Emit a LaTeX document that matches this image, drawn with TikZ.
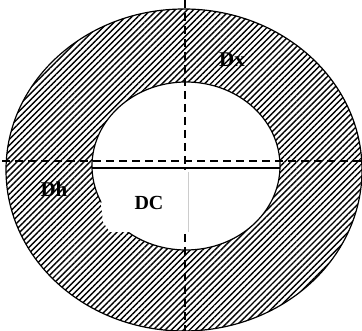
\documentclass[tikz,border=0pt]{standalone}
\usepackage{fontspec}
\setmainfont{Liberation Serif}
\usetikzlibrary{patterns.meta}
\begin{document}
\begin{tikzpicture}[x=1pt,y=-1pt,
  hatch/.style={pattern={Lines[angle=45,distance=4.3pt,line width=1.4pt]}},
  axis/.style={line width=1.6pt,dash pattern=on 8pt off 5pt},
  rim/.style={line width=1.2pt},
  lbl/.style={font=\bfseries\fontsize{21}{21}\selectfont,inner sep=0pt}]
\useasboundingbox (0,0) rectangle (362,331);
\fill[white] (0,0) rectangle (362,331);
% annulus
\fill[hatch] (184,170) ellipse [x radius=178,y radius=161];
\fill[white] (186,166) ellipse [x radius=94,y radius=84];
\draw[rim] (184,170) ellipse [x radius=178,y radius=161];
\draw[rim] (186,166) ellipse [x radius=94,y radius=84];
% axes
\coordinate (hl) at (2,161);
\coordinate (hr) at (362,161);
\coordinate (vt) at (185,0);
\coordinate (vb) at (185,331);
\coordinate (sl) at (92,168);
\coordinate (sr) at (280,168);
\draw[axis] (hl) -- (hr);
\draw[axis] (vt) -- (vb);
\draw[line width=1.5pt] (sl) -- (sr);
% white patch artifact
\fill[white] (101,204) -- (103,222) -- (110,232) -- (188,232) -- (188,170) -- (110,170) -- cycle;
\coordinate (pt) at (188,172);
\coordinate (pb) at (188,232);
\draw[gray!40,line width=0.4pt] (pt) -- (pb);
% labels
\node[lbl] (dx) at (232,60) {Dx};
\node[lbl] (dh) at (54,189) {Dh};
\node[lbl,font=\bfseries\fontsize{20}{20}\selectfont] (dc) at (149,203) {DC};
\end{tikzpicture}
\end{document}
